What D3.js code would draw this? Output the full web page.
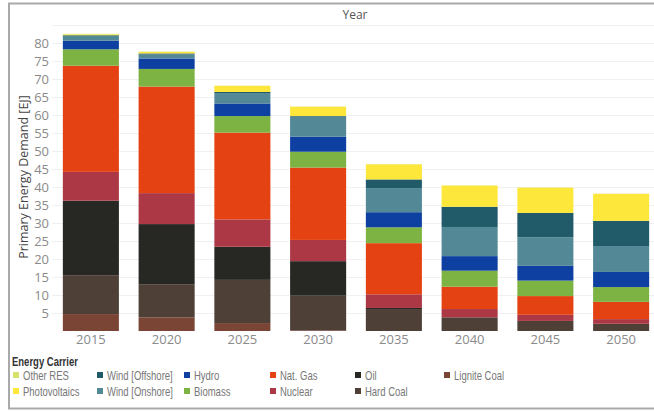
<!DOCTYPE html>
<html>
<head>
<meta charset="utf-8">
<script src="https://cdn.jsdelivr.net/npm/d3@7"></script>
<style>
  body { margin: 0; background: #fff; }
  svg { display: block; font-family: "Open Sans", "Noto Sans", sans-serif; }
</style>
</head>
<body>
<svg id="chart" width="654" height="412"></svg>
<script>
// years on the x axis
var years = ["2015", "2020", "2025", "2030", "2035", "2040", "2045", "2050"];

// carriers, stacked bottom -> top
var carriers = ["Lignite Coal", "Hard Coal", "Oil", "Nuclear", "Nat. Gas", "Biomass",
                "Hydro", "Wind [Onshore]", "Wind [Offshore]", "Photovoltaics", "Other RES"];

var colors = ["#7b4536", "#4e3f37", "#272724", "#ac3845", "#e44212", "#7db343",
              "#0d40a0", "#538897", "#215a68", "#fde73a", "#d6e26a"];

// primary energy demand [EJ], one array per carrier, index = year
var ligniteCoal   = [4.7, 3.8, 2.2, 0.2, 0,   0,    0,   0];
var hardCoal      = [10.8, 9.2, 12.0, 9.6, 6.1, 3.8, 2.8, 2.0];
var oil           = [20.7, 16.7, 9.2, 9.6, 0.3, 0,   0,   0];
var nuclear       = [8.0, 8.6, 7.6, 5.9, 3.8, 2.3,  1.7, 1.3];
var natGas        = [29.5, 29.6, 24.1, 20.1, 14.2, 6.2, 5.2, 4.8];
var biomass       = [4.55, 4.9, 4.6, 4.4, 4.4, 4.45, 4.3, 4.1];
var hydro         = [2.4, 2.9, 3.5, 4.2, 4.2, 4.05, 4.1, 4.2];
var windOnshore   = [1.3, 1.1, 2.9, 5.5, 6.7, 8.1,  7.9, 7.2];
var windOffshore  = [0.2, 0.3, 0.3, 0.2, 2.4, 5.6,  6.8, 7.0];
var photovoltaics = [0.25, 0.4, 1.7, 2.6, 4.2, 5.9, 7.0, 7.5];
var otherRES      = [0.15, 0.1, 0.05, 0.05, 0.05, 0.05, 0.05, 0.05];

var series = [ligniteCoal, hardCoal, oil, nuclear, natGas, biomass,
              hydro, windOnshore, windOffshore, photovoltaics, otherRES];

var yTicks = [5, 10, 15, 20, 25, 30, 35, 40, 45, 50, 55, 60, 65, 70, 75, 80];

// legend layout follows the reference (columns, two rows)
var legendOrder = [["Other RES", "Photovoltaics"], ["Wind [Offshore]", "Wind [Onshore]"],
                   ["Hydro", "Biomass"], ["Nat. Gas", "Nuclear"], ["Oil", "Hard Coal"],
                   ["Lignite Coal"]];

var table = years.map(function(y, i){
    var row = {year: y};
    carriers.forEach(function(c, k){ row[c] = series[k][i]; });
    return row;
});

var svg = d3.select("#chart");
var color = d3.scaleOrdinal().domain(carriers).range(colors);
var legendFont = "\"Liberation Sans\", Arial, sans-serif";
var squeeze = 0.73; // the original legend font is a condensed one

var x = d3.scaleBand()
    .domain(years)
    .range([53, 659])
    .paddingInner(0.26)
    .paddingOuter(0.13);

var y = d3.scaleLinear()
    .domain([0, 85])
    .range([331, 25]);

// outer frame
svg.append("rect")
    .attr("x", 9).attr("y", 3.5)
    .attr("width", 660).attr("height", 405)
    .attr("fill", "none")
    .attr("stroke", "#a9a9a9")
    .attr("stroke-width", 2);

// grid
svg.append("g")
    .selectAll("line")
    .data(yTicks.concat([85]))
    .join("line")
    .attr("x1", 52).attr("x2", 660)
    .attr("y1", function(d){ return Math.round(y(d)) + 0.5; })
    .attr("y2", function(d){ return Math.round(y(d)) + 0.5; })
    .attr("stroke", "#f0f0f0");

// header
svg.append("text")
    .attr("x", 355).attr("y", 19)
    .attr("text-anchor", "middle")
    .attr("font-size", 12)
    .attr("fill", "#555")
    .text("Year");

// stacked bars
var stack = d3.stack().keys(carriers)(table);

svg.append("g")
    .selectAll("g")
    .data(stack)
    .join("g")
    .attr("fill", function(d){ return color(d.key); })
    .selectAll("rect")
    .data(function(d){ return d; })
    .join("rect")
    .attr("x", function(d){ return x(d.data.year); })
    .attr("width", x.bandwidth())
    .attr("y", function(d){ return y(d[1]); })
    .attr("height", function(d){ return Math.max(0, y(d[0]) - y(d[1])); });

// y axis
var yAxis = svg.append("g")
    .attr("transform", "translate(52,0)")
    .call(d3.axisLeft(y).tickValues(yTicks).tickSize(0).tickPadding(3));
yAxis.select(".domain").remove();
yAxis.selectAll("text")
    .attr("font-size", 13)
    .attr("font-family", "\"Open Sans\", sans-serif")
    .attr("fill", "#8a8a8a");

svg.append("text")
    .attr("transform", "translate(28,177) rotate(-90)")
    .attr("text-anchor", "middle")
    .attr("font-size", 12.5)
    .attr("fill", "#444")
    .text("Primary Energy Demand [EJ]");

// x axis
var xAxis = svg.append("g")
    .attr("transform", "translate(0,331)")
    .call(d3.axisBottom(x).tickSize(0).tickPadding(4));
xAxis.select(".domain").remove();
xAxis.selectAll("text")
    .attr("font-size", 13)
    .attr("font-family", "\"Open Sans\", sans-serif")
    .attr("fill", "#8a8a8a");

// legend
var legend = svg.append("g");
legend.append("text")
    .attr("transform", "translate(12,366) scale(" + squeeze + ",1)")
    .attr("font-family", legendFont)
    .attr("font-size", 13)
    .attr("font-weight", "bold")
    .attr("fill", "#333")
    .text("Energy Carrier");

var colX = [16, 100, 187, 273, 358, 447];
legendOrder.forEach(function(col, ci){
    col.forEach(function(name, ri){
        var g = legend.append("g")
            .attr("transform", "translate(" + colX[ci] + "," + (375 + ri * 16) + ")");
        g.append("rect")
            .attr("x", -3).attr("y", -3)
            .attr("width", 6).attr("height", 6)
            .attr("fill", color(name));
        g.append("text")
            .attr("transform", "translate(7,5) scale(" + squeeze + ",1)")
            .attr("font-family", legendFont)
            .attr("font-size", 13)
            .attr("fill", "#777")
            .text(name);
    });
});
</script>
</body>
</html>
